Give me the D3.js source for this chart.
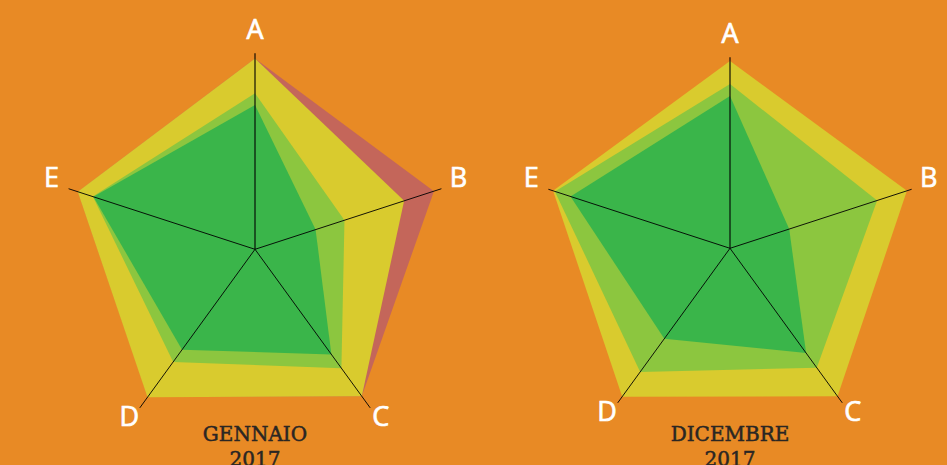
<!DOCTYPE html>
<html lang="it">
<head>
    <meta charset="UTF-8">
    <title>Radar gennaio / dicembre 2017</title>
    <script src="https://cdn.jsdelivr.net/npm/d3@7"></script>
    <style>
        body { margin: 0; background: #e88a25; overflow: hidden; }
        .label { fill: #fff; stroke: #fff; stroke-width: 0.7px; font-family: 'Open Sans', sans-serif; font-size: 27px; }
        .title { fill: #2a2623; stroke: #2a2623; stroke-width: 0.5px; font-family: 'DejaVu Serif', serif; font-size: 20px; }
    </style>
</head>
<body>
    <script>
        var w = 947;
        var h = 465;

        //axes
        var axes = ['A', 'B', 'C', 'D', 'E'];

        //gennaio 2017, one array per layer (outer to inner)
        var gennaioRosso      = [97.4, 96, 92.7, 93, 95];
        var gennaioGiallo     = [97.4, 80, 92.7, 93.3, 95.1];
        var gennaioVerdeChiaro = [79.6, 48, 75, 71, 87];
        var gennaioVerde      = [73.6, 32.5, 66.3, 63.3, 86.7];

        //dicembre 2017
        var dicembreGiallo     = [98, 97.4, 95.8, 96, 97.4];
        var dicembreVerdeChiaro = [86, 81, 77.3, 80, 96.4];
        var dicembreVerde      = [79.7, 32.6, 67.8, 58.5, 87.8];

        var colors = ['#c4665a', '#d9cb2e', '#8cc63f', '#3ab54a'];

        var charts = [
            { cx: 255, cy: 249.3, R: 196, title: ['GENNAIO', '2017'],
              layers: [gennaioRosso, gennaioGiallo, gennaioVerdeChiaro, gennaioVerde] },
            { cx: 730, cy: 248.3, R: 191, title: ['DICEMBRE', '2017'],
              layers: [null, dicembreGiallo, dicembreVerdeChiaro, dicembreVerde] }
        ];

        var angle = d3.scalePoint()
                      .domain(axes)
                      .range([0, 2 * Math.PI * 4 / 5]);

        var svg = d3.select('body')
                    .append('svg')
                    .attr('width', w)
                    .attr('height', h);

        charts.forEach(function(c) {
            var r = d3.scaleLinear().domain([0, 100]).range([0, c.R]);

            var line = d3.lineRadial()
                         .angle(function(d, i) { return angle(axes[i]); })
                         .radius(function(d) { return r(d); })
                         .curve(d3.curveLinearClosed);

            var g = svg.append('g')
                       .attr('transform', 'translate(' + c.cx + ',' + c.cy + ')');

            //layers
            c.layers.forEach(function(vals, i) {
                if (!vals) return;
                g.append('path')
                 .attr('d', line(vals))
                 .attr('fill', colors[i]);
            });

            //axis lines
            g.selectAll('line.axis')
             .data(axes)
             .enter()
             .append('line')
             .attr('class', 'axis')
             .attr('x1', 0)
             .attr('y1', 0)
             .attr('x2', function(d) { return r(100) * Math.sin(angle(d)); })
             .attr('y2', function(d) { return -r(100) * Math.cos(angle(d)); })
             .attr('stroke', '#000')
             .attr('stroke-width', function(d) { return d === 'A' ? 2 : 1; })
             .attr('stroke-opacity', function(d) { return d === 'A' ? 0.55 : 0.9; });

            //axis labels
            g.selectAll('text.label')
             .data(axes)
             .enter()
             .append('text')
             .attr('class', 'label')
             .attr('text-anchor', 'middle')
             .attr('dominant-baseline', 'central')
             .attr('x', function(d) { return (r(100) + 18) * Math.sin(angle(d)); })
             .attr('y', function(d) { return -(r(100) + 18) * Math.cos(angle(d)) - 7; })
             .text(function(d) { return d; });

            //title
            svg.append('text')
               .attr('class', 'title')
               .attr('text-anchor', 'middle')
               .selectAll('tspan')
               .data(c.title)
               .enter()
               .append('tspan')
               .attr('x', c.cx)
               .attr('y', function(d, i) { return 441 + i * 25; })
               .text(function(d) { return d; });
        });
    </script>
</body>
</html>
